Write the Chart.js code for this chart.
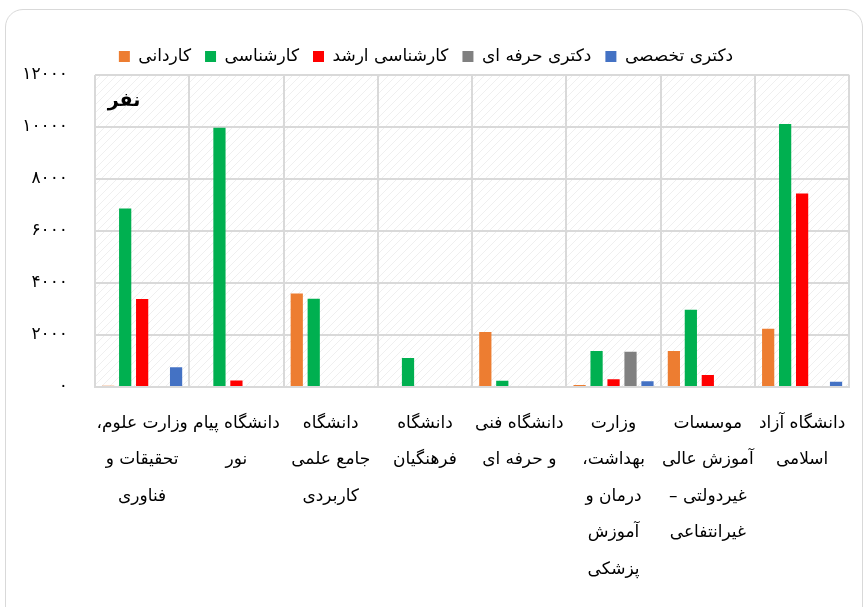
<!DOCTYPE html>
<html>
<head>
<meta charset="utf-8">
<script src="https://cdn.jsdelivr.net/npm/chart.js@4"></script>
<style>
  html, body { margin: 0; padding: 0; background: #fff; overflow: hidden; }
  #frame {
    position: absolute; left: 5px; top: 9px; width: 858px; height: 620px;
    border: 1.5px solid #d9d9d9; border-radius: 18px; box-sizing: border-box;
  }
  #wrap { position: absolute; left: 0; top: 0; width: 864px; height: 607px; }
  #chart { direction: rtl; }
</style>
</head>
<body>
<div id="frame"></div>
<div id="wrap"><canvas id="chart" width="864" height="607"></canvas></div>
<script>
const categories = [
  ["وزارت علوم،", "تحقیقات و", "فناوری"],
  ["دانشگاه پیام", "نور"],
  ["دانشگاه", "جامع علمی", "کاربردی"],
  ["دانشگاه", "فرهنگیان"],
  ["دانشگاه فنی", "و حرفه ای"],
  ["وزارت", "بهداشت،", "درمان و", "آموزش", "پزشکی"],
  ["موسسات", "آموزش عالی", "غیردولتی –", "غیرانتفاعی"],
  ["دانشگاه آزاد", "اسلامی"]
];
const seriesNames = ["کاردانی", "کارشناسی", "کارشناسی ارشد", "دکتری حرفه ای", "دکتری تخصصی"];
const seriesColors = ["#ED7D31", "#00B050", "#FF0000", "#808080", "#4472C4"];

const kardani = [50, 0, 3600, 0, 2120, 80, 1380, 2240];
const karshenasi = [6870, 9970, 3390, 1120, 240, 1380, 2970, 10120];
const arshad = [3380, 250, 0, 0, 0, 300, 460, 7440];
const doctorHerfei = [0, 0, 0, 0, 0, 1360, 0, 0];
const doctorTakhasosi = [760, 0, 0, 0, 0, 220, 0, 200];
const seriesValues = [kardani, karshenasi, arshad, doctorHerfei, doctorTakhasosi];

const unitLabel = "نفر";
const fontFamily = "'DejaVu Sans', sans-serif";

function toPersianDigits(v) {
  return String(v).replace(/\d/g, (d) => "۰۱۲۳۴۵۶۷۸۹"[d]);
}

// hatched plot background + unit label
const plotBackground = {
  id: "plotBackground",
  beforeDraw(chart) {
    const { ctx, chartArea: a } = chart;
    const p = document.createElement("canvas");
    p.width = 8;
    p.height = 8;
    const pc = p.getContext("2d");
    pc.fillStyle = "#ffffff";
    pc.fillRect(0, 0, 8, 8);
    pc.strokeStyle = "#efefef";
    pc.lineWidth = 1;
    pc.beginPath();
    pc.moveTo(0, 8);
    pc.lineTo(8, 0);
    pc.moveTo(-4, 4);
    pc.lineTo(4, -4);
    pc.moveTo(4, 12);
    pc.lineTo(12, 4);
    pc.stroke();
    ctx.save();
    ctx.fillStyle = ctx.createPattern(p, "repeat");
    ctx.fillRect(a.left, a.top, a.right - a.left, a.bottom - a.top);
    ctx.restore();
  },
  afterDraw(chart) {
    const { ctx, chartArea: a } = chart;
    ctx.save();
    ctx.font = "bold 19px " + fontFamily;
    ctx.fillStyle = "#000";
    ctx.textAlign = "center";
    ctx.textBaseline = "middle";
    ctx.fillText(unitLabel, a.left + 29, a.top + 26);
    ctx.restore();
  }
};

const config = {
  type: "bar",
  data: {
    labels: categories,
    datasets: seriesNames.map((name, i) => ({
      label: name,
      data: seriesValues[i],
      backgroundColor: seriesColors[i],
      borderWidth: 0,
      categoryPercentage: 0.9,
      barPercentage: 0.72,
    })),
  },
  options: {
    responsive: false,
    animation: false,
    layout: { padding: { left: 0, right: 12, top: 34, bottom: 0 } },
    plugins: {
      legend: {
        position: "top",
        labels: {
          boxWidth: 11,
          boxHeight: 11,
          padding: 14,
          color: "#000",
          font: { family: fontFamily, size: 17 },
        },
      },
      tooltip: { enabled: false },
    },
    scales: {
      x: {
        grid: { offset: true, color: "#d9d9d9", lineWidth: 2, drawTicks: false },
        border: { color: "#d9d9d9", width: 2 },
        ticks: {
          color: "#000",
          maxRotation: 0,
          autoSkip: false,
          padding: 18,
          font: { family: fontFamily, size: 17, lineHeight: 2.15 },
        },
        afterFit(scale) {
          scale.height = 607 - 387;
        },
      },
      y: {
        min: 0,
        max: 12000,
        grid: { color: "#d9d9d9", lineWidth: 2, drawTicks: false },
        border: { display: false },
        ticks: {
          stepSize: 2000,
          color: "#000",
          padding: 27,
          font: { family: fontFamily, size: 17 },
          callback: (v) => toPersianDigits(v),
        },
        afterFit(scale) {
          scale.width = 95;
        },
      },
    },
  },
  plugins: [plotBackground],
};

new Chart(document.getElementById("chart").getContext("2d"), config);
</script>
</body>
</html>
